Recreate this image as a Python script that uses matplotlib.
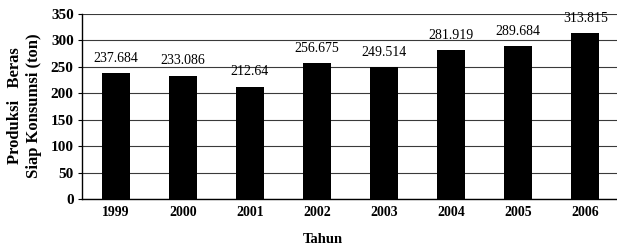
import matplotlib
matplotlib.use('Agg')
import matplotlib.pyplot as plt
import numpy as np

tahun = ['1999', '2000', '2001', '2002', '2003', '2004', '2005', '2006']
produksi = [237.684, 233.086, 212.64, 256.675, 249.514, 281.919, 289.684, 313.815]
label_nilai = ['237.684', '233.086', '212.64', '256.675', '249.514', '281.919', '289.684', '313.815']
yticks = [0, 50, 100, 150, 200, 250, 300, 350]

plt.rcParams['font.family'] = ['Liberation Serif', 'DejaVu Serif']

fig = plt.figure(figsize=(6.17, 2.46), dpi=100)
ax = fig.add_axes([0.133, 0.191, 0.87, 0.752])

x = np.arange(len(tahun))
ax.bar(x, produksi, width=0.42, color='black', zorder=3)
for xi, v, s in zip(x, produksi, label_nilai):
    ax.annotate(s, (xi, v), xytext=(0, 6), textcoords='offset points',
                ha='center', va='bottom', fontsize=10)

ax.set_xlim(-0.5, 7.5)
ax.set_ylim(0, 350)
ax.set_yticks(yticks)
ax.set_yticklabels([str(t) for t in yticks], fontsize=11, fontweight='bold')
ax.set_xticks(x)
ax.set_xticklabels(tahun, fontsize=10, fontweight='bold')
ax.tick_params(axis='x', length=0, pad=5)
ax.tick_params(axis='y', length=3, pad=3)
ax.yaxis.grid(True, color='#3a3a3a', linewidth=0.8, zorder=0)
for s in ['top', 'right']:
    ax.spines[s].set_visible(False)
ax.spines['left'].set_linewidth(1.0)
ax.spines['bottom'].set_linewidth(1.0)

fig.text(0.04, 0.57, 'Produksi   Beras\nSiap Konsumsi (ton)', rotation=90,
         ha='center', va='center', fontsize=12, fontweight='bold', linespacing=1.25)
fig.text(0.523, 0.025, 'Tahun', ha='center', va='center', fontsize=10.5, fontweight='bold')

plt.savefig('out.png', dpi=100)
